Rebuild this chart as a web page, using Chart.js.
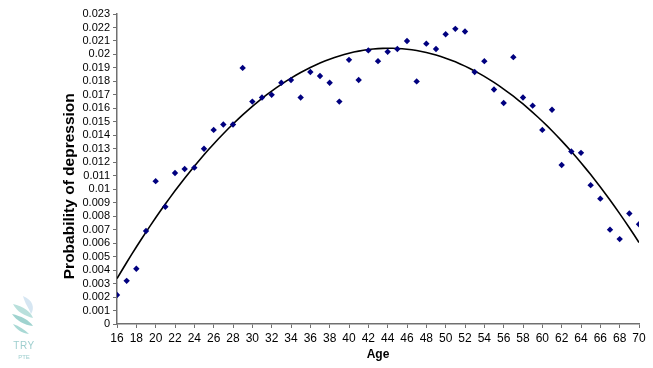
<!DOCTYPE html>
<html>
<head>
<meta charset="utf-8">
<script src="https://cdn.jsdelivr.net/npm/chart.js@4.4.1/dist/chart.umd.min.js"></script>
<style>
  html, body { margin: 0; padding: 0; background: #fff; }
  #wrap { position: relative; width: 653px; height: 368px; }
  #logo { position: absolute; left: 6px; top: 294px; width: 36px; text-align: center;
          font-family: "Liberation Sans", Arial, sans-serif; color: #9fcfcf; line-height: 1; }
  #logo svg { display: block; margin: 0 auto; }
  #logo .t1 { font-size: 10px; letter-spacing: 0.5px; margin-top: 7px; }
  #logo .t2 { font-size: 6px; margin-top: 3px; }
</style>
</head>
<body>
<div id="wrap">
  <canvas id="c" width="653" height="368"></canvas>
  <div id="logo">
    <svg width="30" height="40" viewBox="0 0 30 40">
      <path d="M14 2 C24 6 26 14 22 20 C20 14 16 10 14 2 Z" fill="#d6e6f2"/>
      <path d="M4 10 C14 12 22 18 24 24 C16 22 8 18 4 10 Z" fill="#b9e0dc"/>
      <path d="M3 20 C12 22 20 26 24 32 C15 31 8 27 3 20 Z" fill="#9fd3cf"/>
      <path d="M4 30 C10 32 16 36 20 40 C12 39 7 35 4 30 Z" fill="#a9d9d5"/>
    </svg>
    <div class="t1">TRY</div><div class="t2">PTE</div>
  </div>
</div>
<script>
const ages = [16,17,18,19,20,21,22,23,24,25,26,27,28,29,30,31,32,33,34,35,36,37,38,39,40,41,42,43,44,45,46,47,48,49,50,51,52,53,54,55,56,57,58,59,60,61,62,63,64,65,66,67,68,69,70];
const probability = [0.00215,0.0032,0.0041,0.0069,0.0106,0.0087,0.0112,0.0115,0.0116,0.0130,0.0144,0.0148,0.0148,0.0190,0.0165,0.0168,0.0170,0.0179,0.0181,0.0168,0.0187,0.0184,0.0179,0.0165,0.0196,0.0181,0.0203,0.0195,0.0202,0.0204,0.0210,0.0180,0.0208,0.0204,0.0215,0.0219,0.0217,0.0187,0.0195,0.0174,0.0164,0.0198,0.0168,0.0162,0.0144,0.0159,0.0118,0.0128,0.0127,0.0103,0.0093,0.0070,0.0063,0.0082,0.0074];
const xTickStep = 2;
const yTickStep = 0.001;

// Quadratic least-squares trendline computed from the data (as the original's polynomial trendline)
function quadFit(xs, ys) {
  let S = [0,0,0,0,0], T = [0,0,0];
  for (let i = 0; i < xs.length; i++) {
    let p = 1;
    for (let k = 0; k < 5; k++) { S[k] += p; if (k < 3) T[k] += p * ys[i]; p *= xs[i]; }
  }
  const A = [[S[0],S[1],S[2],T[0]],[S[1],S[2],S[3],T[1]],[S[2],S[3],S[4],T[2]]];
  for (let i = 0; i < 3; i++) {
    for (let j = i + 1; j < 3; j++) {
      const f = A[j][i] / A[i][i];
      for (let k = i; k < 4; k++) A[j][k] -= f * A[i][k];
    }
  }
  const c = [0,0,0];
  for (let i = 2; i >= 0; i--) {
    let s = A[i][3];
    for (let k = i + 1; k < 3; k++) s -= A[i][k] * c[k];
    c[i] = s / A[i][i];
  }
  return c;
}
const coef = quadFit(ages, probability);
const trend = [];
for (let x = ages[0]; x <= ages[ages.length - 1] + 1e-9; x += 0.5) {
  trend.push({ x: x, y: coef[0] + coef[1] * x + coef[2] * x * x });
}

Chart.defaults.font.family = '"Liberation Sans", Arial, sans-serif';
Chart.defaults.font.size = 11;
Chart.defaults.color = '#000';

new Chart(document.getElementById('c'), {
  type: 'scatter',
  data: {
    datasets: [
      {
        label: 'Probability of depression',
        data: ages.map((a, i) => ({ x: a, y: probability[i] })),
        pointStyle: 'rectRot',
        pointRadius: 3.2,
        pointHoverRadius: 3.2,
        backgroundColor: '#00007f',
        borderColor: '#00007f',
        borderWidth: 0
      },
      {
        label: 'Trend',
        type: 'line',
        data: trend,
        borderColor: '#000',
        borderWidth: 1.6,
        pointRadius: 0,
        fill: false,
        tension: 0
      }
    ]
  },
  options: {
    responsive: false,
    animation: false,
    layout: { padding: { left: 0, right: 14, top: 14, bottom: 0 } },
    plugins: { legend: { display: false }, tooltip: { enabled: false } },
    scales: {
      x: {
        type: 'linear',
        min: 16, max: 70,
        ticks: { stepSize: xTickStep, autoSkip: false, maxRotation: 0, padding: 3, font: { size: 12 } },
        grid: { display: true, drawOnChartArea: false, drawTicks: true, tickLength: 4, color: '#707070' },
        border: { display: true, color: '#707070', width: 1.5 },
        title: { display: true, text: 'Age', font: { size: 12, weight: 'bold' }, padding: { top: 2, bottom: 6 } },
        afterFit: s => { s.height = 44; }
      },
      y: {
        min: 0, max: 0.023,
        ticks: {
          stepSize: yTickStep, autoSkip: false, padding: 3,
          callback: v => String(Number(v.toFixed(3)))
        },
        grid: { display: true, drawOnChartArea: false, drawTicks: true, tickLength: 4, color: '#707070' },
        border: { display: true, color: '#707070', width: 1.5 },
        title: { display: true, text: 'Probability of depression        ', font: { size: 15.5, weight: 'bold' }, padding: { top: 60, bottom: 6 } },
        afterFit: s => { s.width = 117; }
      }
    }
  }
});
</script>
</body>
</html>
